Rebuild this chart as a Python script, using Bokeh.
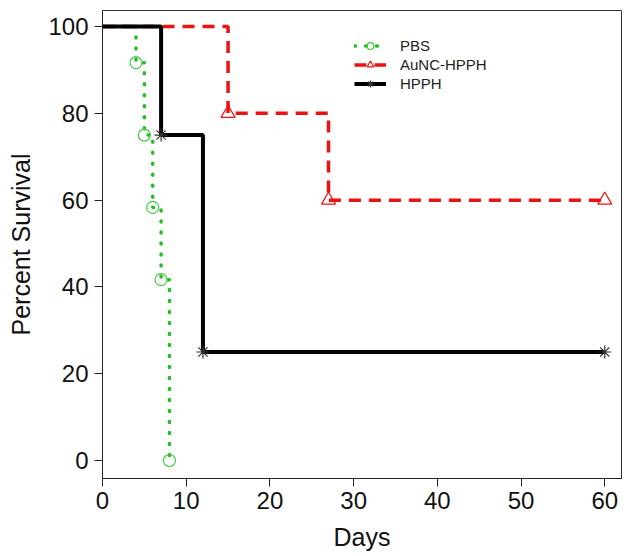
from bokeh.plotting import figure
from bokeh.models import Range1d, Legend, LegendItem, FixedTicker
from bokeh.embed import file_html
from bokeh.resources import INLINE

# Data (Kaplan-Meier steps)
pbs_days = [0, 4, 5, 6, 7, 8]
pbs_surv = [100, 91.67, 75, 58.33, 41.67, 0]
aunc_days = [0, 15, 27, 60]
aunc_surv = [100, 80, 60, 60]
hpph_days = [0, 7, 12, 60]
hpph_surv = [100, 75, 25, 25]
x_ticks = [0, 10, 20, 30, 40, 50, 60]
y_ticks = [0, 20, 40, 60, 80, 100]

FONT = "Liberation Sans"
GREEN = "#22c022"
RED = "#ee1111"

p = figure(width=622, height=555, output_backend="svg", toolbar_location=None,
           x_range=Range1d(0, 62.0), y_range=Range1d(-4.15, 103.7),
           min_border_left=102, min_border_right=1, min_border_top=10, min_border_bottom=77)
p.grid.visible = False
p.outline_line_color = "#333333"
p.outline_line_width = 1
p.background_fill_color = "white"
p.border_fill_color = "white"

for ax, ticks in ((p.xaxis, x_ticks), (p.yaxis, y_ticks)):
    ax.ticker = FixedTicker(ticks=ticks)
    ax.minor_tick_line_color = None
    ax.major_tick_in = 0
    ax.major_tick_out = 8
    ax.major_tick_line_color = "#222222"
    ax.axis_line_color = "#222222"
    ax.major_label_text_font = FONT
    ax.major_label_text_font_size = "24px"
    ax.major_label_text_color = "#111111"
    ax.axis_label_text_font = FONT
    ax.axis_label_text_font_size = "25px"
    ax.axis_label_text_font_style = "normal"
    ax.axis_label_text_color = "#111111"

p.xaxis.axis_label = "Days"
p.yaxis.axis_label = "Percent Survival"
p.xaxis.major_label_standoff = 5
p.xaxis.axis_label_standoff = 11
p.yaxis.major_label_standoff = 6
p.yaxis.axis_label_standoff = 10

# Lines
g_line = p.step(pbs_days, pbs_surv, mode="after", line_color=GREEN, line_width=3.5,
                line_dash="1 10", line_cap="round")
g_pts = p.scatter(pbs_days[1:], pbs_surv[1:], marker="circle", size=12,
                  fill_color=None, line_color="#44cc44", line_width=1.2)
r_line = p.step(aunc_days, aunc_surv, mode="after", line_color=RED, line_width=3.5,
                line_dash="12 8")
r_pts = p.scatter(aunc_days[1:], aunc_surv[1:], marker="triangle", size=14,
                  fill_color=None, line_color=RED, line_width=1.2)
k_line = p.step(hpph_days, hpph_surv, mode="after", line_color="black", line_width=4)
k_pts = p.scatter(hpph_days[1:], hpph_surv[1:], marker="asterisk", size=13,
                  line_color="#333333", line_width=1.2)

legend = Legend(items=[
    LegendItem(label="PBS", renderers=[g_line, g_pts]),
    LegendItem(label="AuNC-HPPH", renderers=[r_line, r_pts]),
    LegendItem(label="HPPH", renderers=[k_line, k_pts]),
], location=(252, 386))
legend.border_line_color = None
legend.background_fill_alpha = 0
legend.padding = 0
legend.margin = 0
legend.spacing = 2
legend.glyph_width = 32
legend.glyph_height = 17
legend.label_standoff = 14
legend.label_text_font = FONT
legend.label_text_font_size = "15px"
legend.label_text_color = "#222222"
legend.label_height = 17
p.add_layout(legend)

open("out.html", "w").write(file_html(p, INLINE))
